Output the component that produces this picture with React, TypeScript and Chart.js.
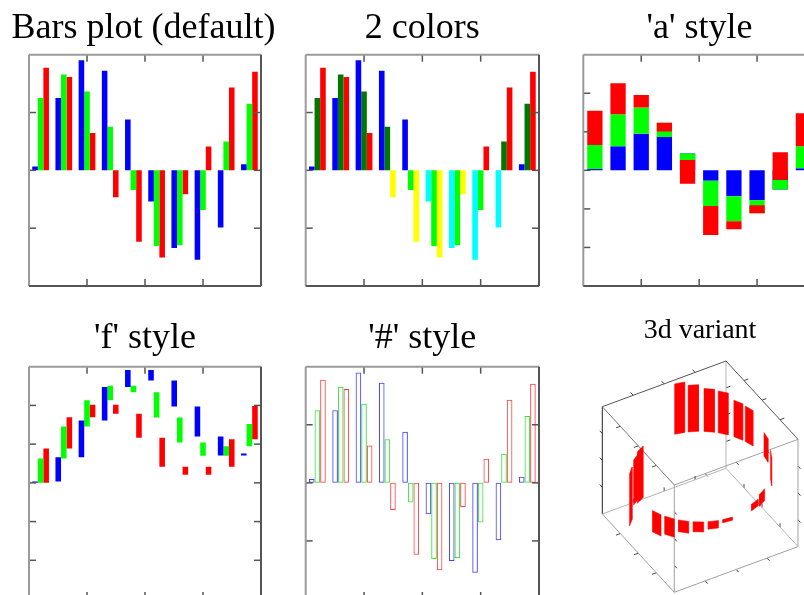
import React, { useEffect, useRef } from "react";
import { Chart, registerables } from "chart.js";
Chart.register(...registerables);

// ---------------- data ----------------
const groups = [1, 2, 3, 4, 5, 6, 7, 8, 9, 10];
const blueVals = [0.034, 0.626, 0.951, 0.862, 0.44, -0.27, -0.672, -0.773, -0.494, 0.052];
const greenVals = [0.626, 0.828, 0.681, 0.376, -0.17, -0.655, -0.647, -0.342, 0.25, 0.575];
const redVals = [0.888, 0.807, 0.322, -0.233, -0.618, -0.753, -0.207, 0.207, 0.716, 0.853];

const xTickVals = [0.5, 3, 5.5, 8, 10.5];
const yTicksUnit = [-1, -0.5, 0, 0.5, 1];
const yTicksThree = [-3, -2, -1, 0, 1, 2, 3];
const cubeTickFractions = [0.25, 0.5, 0.75];

const titles = ["Bars plot (default)", "2 colors", "'a' style", "'f' style", "'#' style", "3d variant"];

// 3d variant: ring of bars (angle in degrees, bar bottom/top relative to ring plane, cube-height units)
const ringAngles = [166.5, 155.3, 142.5, 131, 117.5, 106.5, 82.5, 66, 30, 20, 352.5, 340.5, 328.5, 316.5, 304.5, 292.5, 226, 214, 207];
const ringLow = [0, 0, 0, 0, 0, 0, 0, -0.1, -0.04, -0.025, -0.03, -0.07, -0.093, -0.11, -0.17, -0.2, -0.53, -0.42, -0.45];
const ringHigh = [0.47, 0.435, 0.4, 0.39, 0.34, 0.33, 0.22, 0.17, 0.07, 0.037, 0, 0, 0, 0, 0, 0, -0.04, 0, 0.03];

// ---------------- styles ----------------
const BLUE = "#0000ff";
const GREEN = "#00ff00";
const RED = "#ff0000";
const CYAN = "#00ffff";
const YELLOW = "#ffff00";
const DARKGREEN = "#007800";
const SERIF = "'Liberation Serif', 'Times New Roman', serif";

const titlePlugin = {
  id: "ptitle",
  afterDraw(chart: any, _args: any, opts: any) {
    if (!opts || !opts.text) return;
    const ctx = chart.ctx;
    ctx.save();
    ctx.font = `normal ${opts.size}px ${SERIF}`;
    ctx.fillStyle = "#000";
    ctx.textAlign = "center";
    ctx.textBaseline = "alphabetic";
    ctx.translate(opts.x, opts.y);
    ctx.scale(opts.sx || 1, 1);
    ctx.fillText(opts.text, 0, 0);
    ctx.restore();
  },
};

const framePlugin = {
  id: "frame",
  afterDatasetsDraw(chart: any, _args: any, opts: any) {
    if (!opts || !opts.enabled) return;
    const { ctx, chartArea: a, scales } = chart;
    const xs = scales.x;
    const ys = scales.y;
    const L = 7;
    ctx.save();
    const seg = (x1: number, y1: number, x2: number, y2: number) => {
      ctx.beginPath();
      ctx.moveTo(x1, y1);
      ctx.lineTo(x2, y2);
      ctx.stroke();
    };
    ctx.strokeStyle = "#555";
    ctx.lineWidth = 1.5;
    (opts.xTicks as number[]).forEach((v) => {
      const px = xs.getPixelForValue(v);
      if (px <= a.left + 1 || px >= a.right - 1) return;
      seg(px, a.top, px, a.top + L);
      seg(px, a.bottom, px, a.bottom - L);
    });
    (opts.yTicks as number[]).forEach((v) => {
      const py = ys.getPixelForValue(v);
      if (py <= a.top + 1 || py >= a.bottom - 1) return;
      seg(a.left, py, a.left + L, py);
      seg(a.right, py, a.right - L, py);
    });
    ctx.lineWidth = 2;
    ctx.strokeStyle = "#9a9a9a";
    seg(a.left, a.top, a.right, a.top);
    seg(a.left, a.top, a.left, a.bottom);
    ctx.strokeStyle = "#555";
    seg(a.left, a.bottom, a.right, a.bottom);
    seg(a.right, a.top, a.right, a.bottom);
    ctx.restore();
  },
};

const pts = (vals: any[]) => groups.map((g, i) => ({ x: g, y: vals[i] }));
const cumulative = (vals: number[]) => {
  let s = 0;
  return vals.map((v) => {
    const a = s;
    s += v;
    return [a, s];
  });
};
const stackedRanges = () => {
  const out: number[][][] = [[], [], []];
  groups.forEach((_, i) => {
    let s = 0;
    [blueVals, greenVals, redVals].forEach((arr, k) => {
      const a = s;
      s += arr[i];
      out[k].push([a, s]);
    });
  });
  return out;
};

function barConfig(opts: {
  title: any;
  datasets: any[];
  yMin: number;
  yMax: number;
  yTicks: number[];
  padding: any;
}) {
  return {
    type: "bar",
    data: { datasets: opts.datasets },
    options: {
      responsive: false,
      animation: false,
      devicePixelRatio: 1,
      layout: { padding: opts.padding },
      scales: {
        x: { type: "linear", min: 0.5, max: 10.5, offset: false, display: false },
        y: { type: "linear", min: opts.yMin, max: opts.yMax, display: false },
      },
      plugins: {
        legend: { display: false },
        tooltip: { enabled: false },
        title: { display: false },
        ptitle: opts.title,
        frame: { enabled: true, xTicks: xTickVals, yTicks: opts.yTicks },
      },
    },
    plugins: [framePlugin, titlePlugin],
  };
}

const groupedBase = { categoryPercentage: 0.72, barPercentage: 1.0, borderWidth: 0 };
const ROW1_PAD = { top: 54.7, bottom: 14 };
const ROW2_PAD = { top: 56.7, bottom: 11 };

function config1() {
  return barConfig({
    title: { text: titles[0], size: 36, x: 143.5, y: 37.7 },
    datasets: [
      { ...groupedBase, data: pts(blueVals), backgroundColor: BLUE },
      { ...groupedBase, data: pts(greenVals), backgroundColor: GREEN },
      { ...groupedBase, data: pts(redVals), backgroundColor: RED },
    ],
    yMin: -1,
    yMax: 1,
    yTicks: yTicksUnit,
    padding: { left: 29, right: 29, ...ROW1_PAD },
  });
}

const signColor = (pos: string, neg: string) => (c: any) => {
  const raw = c.raw;
  const v = raw && typeof raw.y === "number" ? raw.y : 0;
  return v >= 0 ? pos : neg;
};

function config2() {
  return barConfig({
    title: { text: titles[1], size: 36, x: 132.3, y: 37.7 },
    datasets: [
      { ...groupedBase, data: pts(blueVals), backgroundColor: signColor(BLUE, CYAN) },
      { ...groupedBase, data: pts(greenVals), backgroundColor: signColor(DARKGREEN, GREEN) },
      { ...groupedBase, data: pts(redVals), backgroundColor: signColor(RED, YELLOW) },
    ],
    yMin: -1,
    yMax: 1,
    yTicks: yTicksUnit,
    padding: { left: 15.7, right: 41, ...ROW1_PAD },
  });
}

function config3() {
  const [b, g, r] = stackedRanges();
  const base = { grouped: false, categoryPercentage: 0.66, barPercentage: 1.0, borderWidth: 0 };
  return barConfig({
    title: { text: titles[2], size: 36, x: 129.5, y: 37.7 },
    datasets: [
      { ...base, data: pts(r), backgroundColor: RED, order: 0 },
      { ...base, data: pts(g), backgroundColor: GREEN, order: 1 },
      { ...base, data: pts(b), backgroundColor: BLUE, order: 2 },
    ],
    yMin: -3,
    yMax: 3,
    yTicks: yTicksThree,
    padding: { left: 13.3, right: 17, ...ROW1_PAD },
  });
}

function config4() {
  return barConfig({
    title: { text: titles[3], size: 36, x: 145, y: 37.7 },
    datasets: [
      { ...groupedBase, data: pts(cumulative(blueVals)), backgroundColor: BLUE },
      { ...groupedBase, data: pts(cumulative(greenVals)), backgroundColor: GREEN },
      { ...groupedBase, data: pts(cumulative(redVals)), backgroundColor: RED },
    ],
    yMin: -3,
    yMax: 3,
    yTicks: yTicksThree,
    padding: { left: 29, right: 29, ...ROW2_PAD },
  });
}

function config5() {
  const base = { ...groupedBase, borderWidth: 1, backgroundColor: "rgba(0,0,0,0)", borderSkipped: false };
  return barConfig({
    title: { text: titles[4], size: 36, x: 132.3, y: 37.7 },
    datasets: [
      { ...base, data: pts(blueVals), borderColor: "rgba(0,0,255,0.75)" },
      { ...base, data: pts(greenVals), borderColor: "rgba(0,220,0,0.8)" },
      { ...base, data: pts(redVals), borderColor: "rgba(255,0,0,0.75)" },
    ],
    yMin: -1,
    yMax: 1,
    yTicks: yTicksUnit,
    padding: { left: 15.7, right: 41, ...ROW2_PAD },
  });
}

// projection of the unit cube into page pixels
const proj = (u: number, v: number, w: number) => ({
  x: 602.3 + 72 * u + 123.7 * v,
  y: 514 + 78.3 * u - 45.7 * v - 107.3 * w,
});

function config6() {
  const V = (p: number[]) => proj(p[0], p[1], p[2]);
  // edge: start, end, tick direction (unit-cube vector), colour
  const edges: [number[], number[], number[], string][] = [
    [[0, 0, 0], [1, 0, 0], [0, -1, 0], "#a0a0a0"],
    [[1, 0, 0], [1, 1, 0], [1, 0, 0], "#a0a0a0"],
    [[1, 1, 0], [0, 1, 0], [0, 0, 1], "#b4b4b4"],
    [[0, 1, 0], [0, 0, 0], [0, 0, 1], "#b4b4b4"],
    [[0, 0, 1], [1, 0, 1], [0, -1, 0], "#777"],
    [[1, 0, 1], [1, 1, 1], [1, 0, 0], "#a0a0a0"],
    [[1, 1, 1], [0, 1, 1], [0, 1, 0], "#555"],
    [[0, 1, 1], [0, 0, 1], [-1, 0, 0], "#555"],
    [[0, 0, 0], [0, 0, 1], [-1, 0, 0], "#222"],
    [[1, 0, 0], [1, 0, 1], [1, 0, 0], "#a0a0a0"],
    [[1, 1, 0], [1, 1, 1], [1, 0, 0], "#a0a0a0"],
    [[0, 1, 0], [0, 1, 1], [0, 1, 0], "#b4b4b4"],
  ];
  const datasets: any[] = [];
  edges.forEach(([p, q, dir, col]) => {
    datasets.push({
      type: "line",
      data: [V(p), V(q)],
      borderColor: col,
      borderWidth: 1,
      pointRadius: 0,
      fill: false,
      order: 5,
    });
    cubeTickFractions.forEach((f) => {
      const m = [0, 1, 2].map((k) => p[k] + (q[k] - p[k]) * f);
      const e = [0, 1, 2].map((k) => m[k] + dir[k] * 0.035);
      datasets.push({
        type: "line",
        data: [V(m), V(e)],
        borderColor: "#444",
        borderWidth: 1,
        pointRadius: 0,
        fill: false,
        order: 5,
      });
    });
  });
  const d = (4.2 * Math.PI) / 180;
  ringAngles.forEach((deg, i) => {
    const t = (deg * Math.PI) / 180;
    const c = (a: number) => [0.5 + 0.5 * Math.cos(a), 0.5 + 0.5 * Math.sin(a)];
    const [u1, v1] = c(t - d);
    const [u2, v2] = c(t + d);
    const w0 = 0.5 + ringLow[i];
    const w1 = 0.5 + ringHigh[i];
    datasets.push({
      type: "line",
      data: [V([u1, v1, w0]), V([u2, v2, w0]), V([u2, v2, w1]), V([u1, v1, w1]), V([u1, v1, w0])],
      borderColor: RED,
      backgroundColor: RED,
      borderWidth: 0.5,
      pointRadius: 0,
      fill: "shape",
      tension: 0,
      order: 1,
    });
  });
  return {
    type: "scatter",
    data: { datasets },
    options: {
      responsive: false,
      animation: false,
      devicePixelRatio: 1,
      layout: { padding: { left: 0, right: 0, top: 40, bottom: 0 } },
      scales: {
        x: { type: "linear", min: 570, max: 850, offset: false, display: false },
        y: { type: "linear", min: 350, max: 595, reverse: true, display: false },
      },
      elements: { line: { tension: 0 } },
      plugins: {
        legend: { display: false },
        tooltip: { enabled: false },
        title: { display: false },
        ptitle: { text: titles[5], size: 28, x: 130, y: 28 },
      },
    },
    plugins: [titlePlugin],
  };
}

function ChartCanvas(props: { left: number; top: number; width: number; height: number; make: () => any }) {
  const ref = useRef<HTMLCanvasElement>(null);
  useEffect(() => {
    const chart = new Chart(ref.current as HTMLCanvasElement, props.make());
    return () => chart.destroy();
  }, []);
  const { left, top, width, height } = props;
  return (
    <canvas
      ref={ref}
      width={width}
      height={height}
      style={{ position: "absolute", left, top, width, height, display: "block" }}
    />
  );
}

export default function App() {
  return (
    <div
      style={{
        position: "fixed",
        left: 0,
        top: 0,
        width: 804,
        height: 595,
        overflow: "hidden",
        background: "#ffffff",
      }}
    >
      <ChartCanvas left={0} top={0} width={290} height={300} make={config1} />
      <ChartCanvas left={290} top={0} width={290} height={300} make={config2} />
      <ChartCanvas left={570} top={0} width={262} height={300} make={config3} />
      <ChartCanvas left={0} top={310} width={290} height={300} make={config4} />
      <ChartCanvas left={290} top={310} width={290} height={300} make={config5} />
      <ChartCanvas left={570} top={310} width={280} height={285} make={config6} />
    </div>
  );
}
